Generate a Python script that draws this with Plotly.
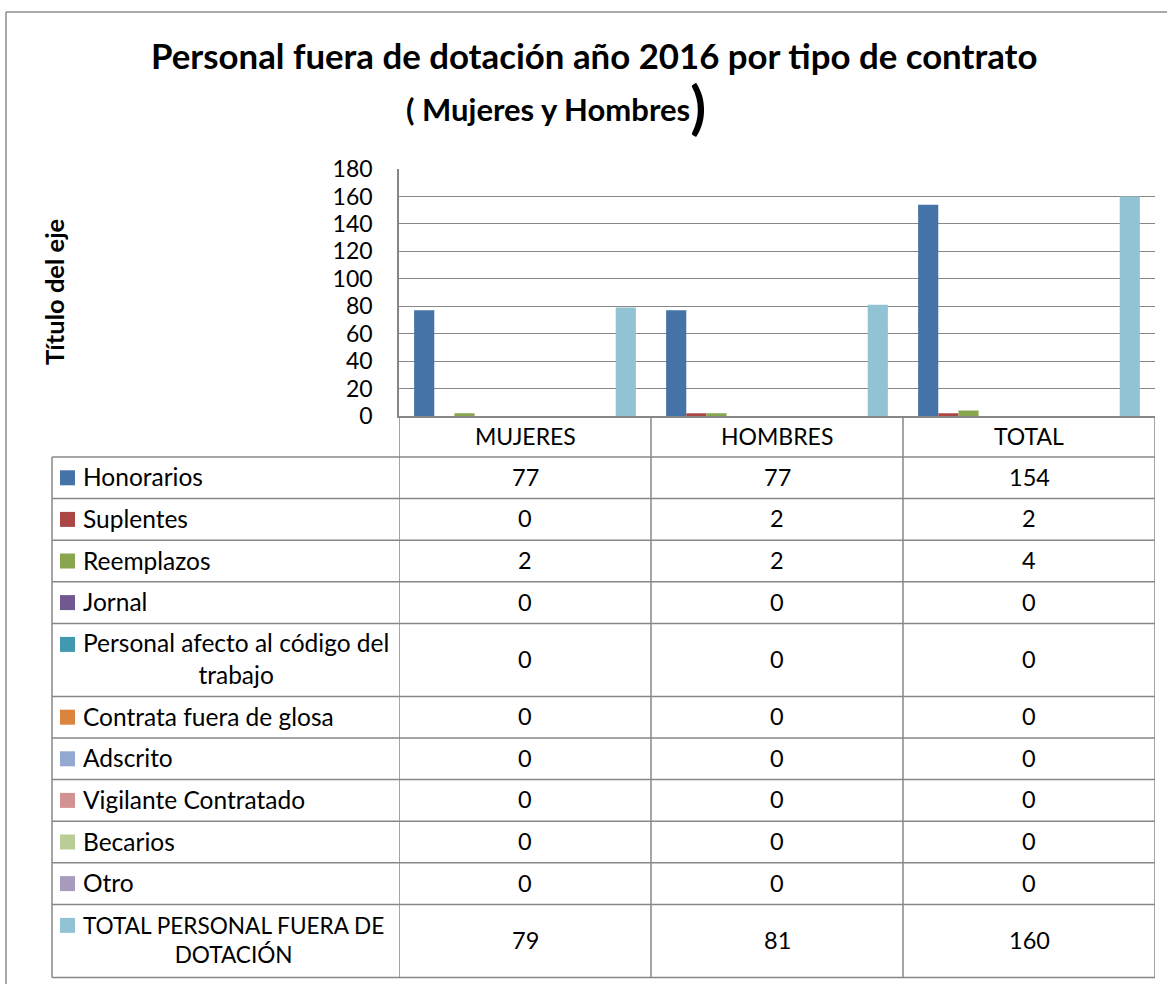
import plotly.graph_objects as go

# ---------------- data ----------------
categories = ["MUJERES", "HOMBRES", "TOTAL"]

series_names = [
    "Honorarios", "Suplentes", "Reemplazos", "Jornal",
    "Personal afecto al código del trabajo", "Contrata fuera de glosa",
    "Adscrito", "Vigilante Contratado", "Becarios", "Otro",
    "TOTAL PERSONAL FUERA DE DOTACIÓN",
]
series_labels = [
    "Honorarios", "Suplentes", "Reemplazos", "Jornal",
    "Personal afecto al código del<br>trabajo", "Contrata fuera de glosa",
    "Adscrito", "Vigilante Contratado", "Becarios", "Otro",
    "TOTAL PERSONAL FUERA DE<br>DOTACIÓN",
]

honorarios = [77, 77, 154]
suplentes = [0, 2, 2]
reemplazos = [2, 2, 4]
jornal = [0, 0, 0]
personal_afecto = [0, 0, 0]
contrata_fuera_glosa = [0, 0, 0]
adscrito = [0, 0, 0]
vigilante = [0, 0, 0]
becarios = [0, 0, 0]
otro = [0, 0, 0]
total_fuera_dotacion = [79, 81, 160]

series_values = [honorarios, suplentes, reemplazos, jornal, personal_afecto,
                 contrata_fuera_glosa, adscrito, vigilante, becarios, otro,
                 total_fuera_dotacion]

series_colors = ["#4572A7", "#AA4643", "#89A54E", "#71588F", "#4198AF",
                 "#DB843D", "#93A9CF", "#D19392", "#B9CD96", "#A99BBD",
                 "#92C3D4"]

y_ticks = [0, 20, 40, 60, 80, 100, 120, 140, 160, 180]

# ---------------- layout helpers ----------------
W, H = 1167, 984
FONT = "Lato"
GRID = "#878787"
NUM_SIZE = 23.5
HEAD_SIZE = 23
LAB_SIZE = 24.5
CAPS_LAB_SIZE = 22.6


def fx(x):
    return x / W


def fy(y):
    return 1 - y / H


PLOT_L, PLOT_R, PLOT_T, PLOT_B = 399, 1155, 169, 416
TABLE_L = 52
HEADER_B = 457
ROW_H1, ROW_H2 = 41.6, 73.0

fig = go.Figure()
for name, vals, color in zip(series_names, series_values, series_colors):
    fig.add_trace(go.Bar(x=categories, y=vals, name=name,
                         marker=dict(color=color, line=dict(width=0))))

shapes = []
annotations = []


def hline(y, x0, x1):
    shapes.append(dict(type="line", xref="paper", yref="paper",
                       x0=fx(x0), x1=fx(x1), y0=fy(y), y1=fy(y),
                       line=dict(color=GRID, width=1.5)))


def vline_x(xval, y0, y1):
    shapes.append(dict(type="line", xref="x", yref="paper",
                       x0=xval, x1=xval, y0=fy(y0), y1=fy(y1),
                       line=dict(color=GRID, width=1.5)))


# category header row
for cat in categories:
    annotations.append(dict(x=cat, xref="x", y=fy((PLOT_B + HEADER_B) / 2 - 1), yref="paper",
                            text=cat, showarrow=False, xanchor="center", yanchor="middle",
                            font=dict(family=FONT, size=HEAD_SIZE, color="black")))

# table rows
y = HEADER_B
row_bounds = [y]
for i, (lab, vals, color) in enumerate(zip(series_labels, series_values, series_colors)):
    two = "<br>" in lab
    h = ROW_H2 if two else ROW_H1
    ymid = y + h / 2
    key_c = ymid - (15.5 if two else 0)
    shapes.append(dict(type="rect", xref="paper", yref="paper",
                       x0=fx(60), x1=fx(75), y0=fy(key_c - 7.5), y1=fy(key_c + 7.5),
                       fillcolor=color, line=dict(width=0)))
    plain = lab.replace("<br>", " ")
    size = CAPS_LAB_SIZE if plain.isupper() else LAB_SIZE
    annotations.append(dict(x=fx(81), xref="paper", y=fy(ymid - 1), yref="paper",
                            text=lab, showarrow=False, xanchor="left", yanchor="middle",
                            align="center",
                            font=dict(family=FONT, size=size, color="black")))
    for cat, v in zip(categories, vals):
        annotations.append(dict(x=cat, xref="x", y=fy(ymid - 1), yref="paper",
                                text=str(v), showarrow=False, xanchor="center",
                                yanchor="middle",
                                font=dict(family=FONT, size=NUM_SIZE, color="black")))
    y += h
    row_bounds.append(y)

TABLE_B = row_bounds[-1]
for yb in row_bounds:
    hline(yb, TABLE_L, PLOT_R)
for xv in [-0.5, 0.5, 1.5, 2.5]:
    vline_x(xv, PLOT_B, TABLE_B)
shapes.append(dict(type="line", xref="paper", yref="paper",
                   x0=fx(TABLE_L), x1=fx(TABLE_L), y0=fy(HEADER_B), y1=fy(TABLE_B),
                   line=dict(color=GRID, width=1.5)))

# outer chart border (left and top)
shapes.append(dict(type="line", xref="paper", yref="paper",
                   x0=fx(6), x1=fx(6), y0=fy(12), y1=0,
                   line=dict(color="#8c8c8c", width=1.5)))
shapes.append(dict(type="line", xref="paper", yref="paper",
                   x0=fx(6), x1=1, y0=fy(12), y1=fy(12),
                   line=dict(color="#8c8c8c", width=1.5)))

# titles
annotations.append(dict(x=fx(594), xref="paper", y=fy(56), yref="paper",
                        text="<b>Personal fuera de dotación año 2016 por tipo de contrato</b>",
                        showarrow=False, xanchor="center", yanchor="middle",
                        font=dict(family=FONT, size=34.8, color="black")))
annotations.append(dict(x=fx(556), xref="paper", y=fy(106), yref="paper",
                        text="<b>( Mujeres y Hombres<sub><span style='font-size:58px'>)</span></sub></b>",
                        showarrow=False, xanchor="center", yanchor="middle",
                        font=dict(family=FONT, size=31, color="black")))
annotations.append(dict(x=fx(54), xref="paper", y=fy(292), yref="paper",
                        text="<b>Título del eje</b>", textangle=-90,
                        showarrow=False, xanchor="center", yanchor="middle",
                        font=dict(family=FONT, size=25.5, color="black")))

fig.update_layout(
    template="none",
    width=W, height=H, autosize=False,
    margin=dict(l=0, r=0, t=0, b=0, pad=0, autoexpand=False),
    paper_bgcolor="white", plot_bgcolor="white",
    barmode="group", bargap=0.12, bargroupgap=0,
    showlegend=False,
    font=dict(family=FONT, color="black"),
    xaxis=dict(domain=[fx(PLOT_L), fx(PLOT_R)], range=[-0.5, 2.5], automargin=False,
               showticklabels=False, showgrid=False, zeroline=False,
               showline=True, linecolor=GRID, linewidth=1.5, ticks=""),
    yaxis=dict(domain=[fy(PLOT_B), fy(PLOT_T)], range=[0, 180], automargin=False,
               tickvals=y_ticks, showgrid=True, gridcolor=GRID, gridwidth=1.3,
               zeroline=False, showline=True, linecolor=GRID, linewidth=1.5,
               ticks="", ticklabelstandoff=20,
               tickfont=dict(family=FONT, size=23, color="black")),
    shapes=shapes,
    annotations=annotations,
)

fig.write_html(
    "out.html",
    config={"displayModeBar": False},
    post_script="document.body.style.margin='0px';document.body.style.padding='0px';"
                "document.documentElement.style.overflow='hidden';",
)
